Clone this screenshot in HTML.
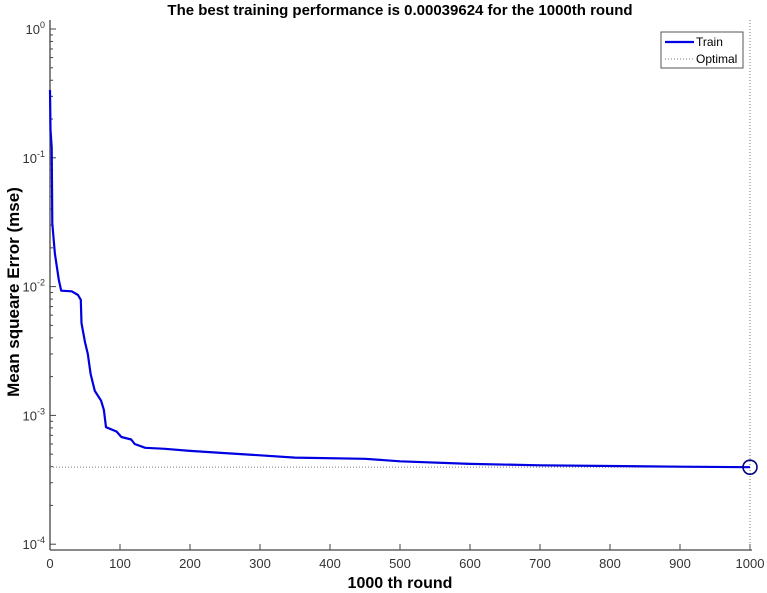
<!DOCTYPE html>
<html><head><meta charset="utf-8"><style>
body{margin:0;background:#fff;}
svg{display:block;font-family:"Liberation Sans",Arial,sans-serif;}
</style></head><body>
<svg id="chart" width="767" height="593" viewBox="0 0 767 593">
<text x="400" y="15" text-anchor="middle" font-size="15" font-weight="bold">The best training performance is 0.00039624 for the 1000th round</text>
<g id="axes"></g>
<g id="series"></g>
<text x="400" y="588" text-anchor="middle" font-size="16" font-weight="bold">1000 th round</text>
<text transform="translate(19,292) rotate(-90)" text-anchor="middle" font-size="17" font-weight="bold">Mean squeare Error (mse)</text>
<g>
<rect x="661" y="32" width="82" height="36" fill="#fff" stroke="#555" stroke-width="1"/>
<line x1="665" y1="42" x2="694" y2="42" stroke="#0000e0" stroke-width="2.2"/>
<text x="696" y="46" font-size="12">Train</text>
<line x1="665" y1="59" x2="694" y2="59" stroke="#777" stroke-width="1" stroke-dasharray="1,2"/>
<text x="696" y="63" font-size="12">Optimal</text>
</g>
</svg>
<script>
const trainX=[0,0.7,2.4,3.3,7,12.6,16,31,40,44,45,50,54,58,64,73,77,80,95,102,116,121,136,164,200,250,300,350,450,500,600,700,800,900,1000];
const trainY=[0.336,0.165,0.12,0.031,0.018,0.0113,0.0093,0.0092,0.0086,0.0079,0.0052,0.0037,0.003,0.0021,0.00155,0.0013,0.0011,0.00081,0.00075,0.00068,0.00065,0.0006,0.00056,0.00055,0.00053,0.00051,0.00049,0.00047,0.00046,0.00044,0.00042,0.00041,0.000405,0.0004,0.00039624];
const bestX=1000, bestY=0.00039624;
const xTicks=[0,100,200,300,400,500,600,700,800,900,1000];
const yTickExp=[0,-1,-2,-3,-4];
const NS="http://www.w3.org/2000/svg";
const X0=50,XS=0.7,YTOP=29,DEC=128.8,YBOT=550;
function xs(v){return X0+v*XS;}
function ys(v){return YTOP-Math.log10(v)*DEC;}
function mk(t,a,p){const e=document.createElementNS(NS,t);for(const k in a)e.setAttribute(k,a[k]);(p||document.getElementById('axes')).appendChild(e);return e;}
let l=mk('line',{x1:X0,y1:20,x2:X0,y2:YBOT,stroke:'#444','stroke-width':1.3});


l=mk('line',{x1:X0,y1:YBOT,x2:xs(1000)+2,y2:YBOT,stroke:'#444','stroke-width':1.3});


xTicks.forEach(v=>{
 const t=mk('line',{x1:xs(v),y1:YBOT,x2:xs(v),y2:YBOT-6,stroke:'#444'});
 
 
 const tx=mk('text',{x:xs(v),y:YBOT+18,'text-anchor':'middle','font-size':13,fill:'#333'});
 tx.textContent=v;
 
 
});
yTickExp.forEach(e=>{
 const y=ys(Math.pow(10,e));
 const t=mk('line',{x1:X0,y1:y,x2:X0+6,y2:y,stroke:'#444'});
 
 
 const tx=mk('text',{x:X0-5,y:y+5,'text-anchor':'end','font-size':13,fill:'#333'});
 tx.innerHTML='10<tspan dy="-6" font-size="9">'+e+'</tspan>';
 
 
 if(e<0){for(let m=2;m<=9;m++){const yy=ys(m*Math.pow(10,e));const mt=mk('line',{x1:X0,y1:yy,x2:X0+3,y2:yy,stroke:'#444'});
 
 }}
});
const se=document.getElementById('series');
let d=mk('line',{x1:X0,y1:ys(bestY),x2:xs(1000),y2:ys(bestY),stroke:'#777','stroke-width':1,'stroke-dasharray':'1,2'},se);


d=mk('line',{x1:xs(bestX),y1:20,x2:xs(bestX),y2:YBOT,stroke:'#777','stroke-width':1,'stroke-dasharray':'1,2'},se);


const pts=trainX.map((x,i)=>xs(x).toFixed(1)+','+ys(trainY[i]).toFixed(1)).join(' ');
const pl=mk('polyline',{points:pts,fill:'none',stroke:'#0000e0','stroke-width':2.2,'stroke-linejoin':'round'},se);


const c=mk('circle',{cx:xs(bestX),cy:ys(bestY),r:7,fill:'none',stroke:'#000080','stroke-width':1.6},se);


</script>
</body></html>
